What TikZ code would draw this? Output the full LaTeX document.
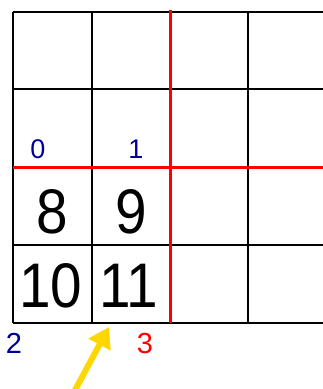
\documentclass[tikz,border=0pt]{standalone}
\usepackage{fontspec}
\setmainfont{Liberation Sans}
\usepackage{tikz}
\usetikzlibrary{arrows.meta,positioning}
\definecolor{gridred}  {RGB}{255,0,0}
\definecolor{idxblue}  {RGB}{0,0,150}
\definecolor{ptrgold}  {RGB}{255,215,0}
\tikzset{
  cellnum/.style={font=\fontsize{63}{63}\selectfont,inner sep=0pt,anchor=base},
  idx/.style={font=\fontsize{27}{27}\selectfont,inner sep=0pt,anchor=base,text=#1},
  idx/.default=idxblue,
  gridline/.style={line width=2pt,black},
  cutline/.style={line width=3pt,gridred},
  ptr/.style={-{Triangle[length=20pt,width=24pt]},line width=6pt,ptrgold},
}
\begin{document}
\begin{tikzpicture}[x=1pt,y=-1pt]
    \useasboundingbox (0,0) rectangle (323,389);
    % grid
    \foreach \y in {12,89,167,245,323}
      \draw[gridline] (13,\y)--(323,\y);
    \foreach \x in {13,92,248}
      \draw[gridline] (\x,12)--(\x,323);
    % split lines
    \draw[cutline] (170,10)--(170,323);
    \draw[cutline] (13,167)--(323,167);
    % cell values
    \foreach \n/\x/\y in {8/52/233,9/131/233,10/51/307,11/129/307}
      \node[cellnum] (c\n) at (\x,\y) {\scalebox{0.9}[1]{\n}};
    % indices
    \node[idx] (i0) at (38,158) {0};
    \node[idx] (i1) at (136,158) {1};
    \node[idx,font=\fontsize{29}{29}\selectfont] (i2) at (14,353) {2};
    \node[idx=gridred,font=\fontsize{29}{29}\selectfont] (i3) at (145,353) {3};
    % pointer
    \coordinate (tail) at (74,392);
    \coordinate (head) at (109,327);
    \draw[ptr] (tail)--(head);
\end{tikzpicture}
\end{document}
